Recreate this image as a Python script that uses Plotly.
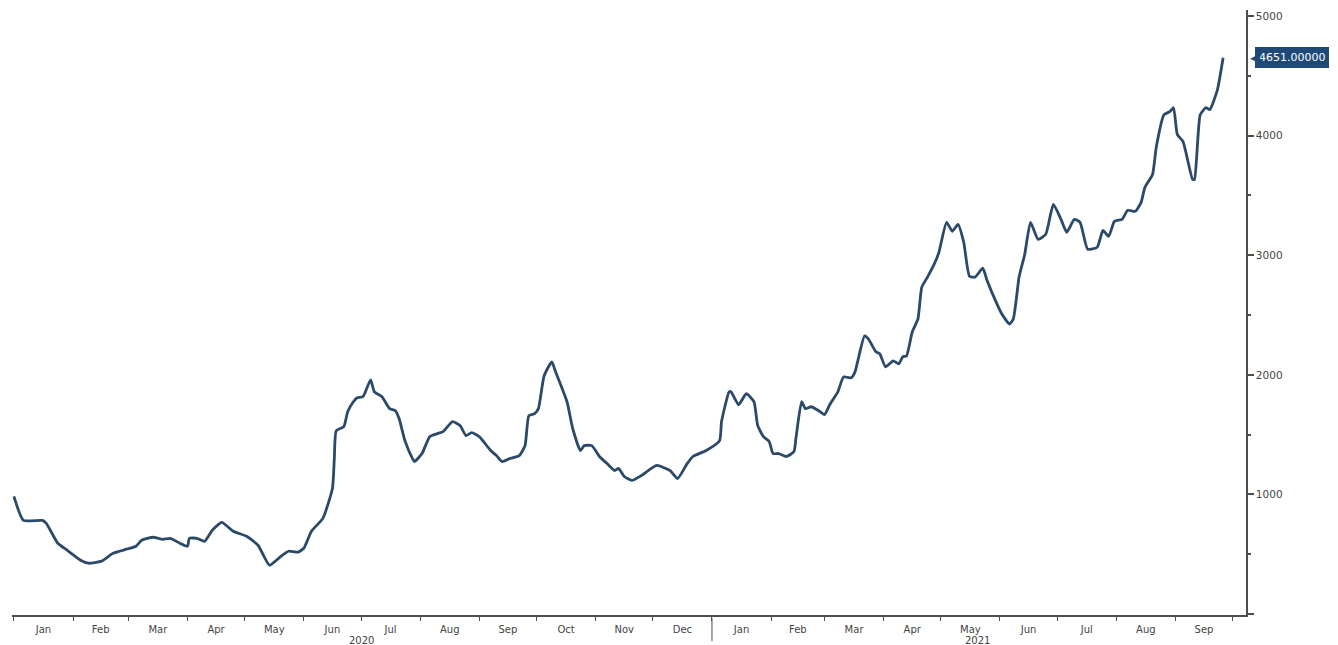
import plotly.graph_objects as go

dates = [
    "2020-01-01", "2020-01-06", "2020-01-16", "2020-01-18", "2020-01-24", "2020-01-29",
    "2020-02-05", "2020-02-09", "2020-02-16", "2020-02-22", "2020-02-29",
    "2020-03-05", "2020-03-08", "2020-03-14", "2020-03-19", "2020-03-23", "2020-03-28",
    "2020-04-01", "2020-04-02", "2020-04-06", "2020-04-10", "2020-04-14", "2020-04-19", "2020-04-25",
    "2020-05-02", "2020-05-08", "2020-05-14", "2020-05-20", "2020-05-24", "2020-05-29",
    "2020-06-01", "2020-06-05", "2020-06-11", "2020-06-16", "2020-06-17", "2020-06-18",
    "2020-06-22", "2020-06-24", "2020-06-27", "2020-06-29",
    "2020-07-02", "2020-07-06", "2020-07-08", "2020-07-12", "2020-07-16", "2020-07-19",
    "2020-07-21", "2020-07-24", "2020-07-28", "2020-07-29",
    "2020-08-02", "2020-08-06", "2020-08-10", "2020-08-13", "2020-08-18", "2020-08-22",
    "2020-08-25", "2020-08-28",
    "2020-09-01", "2020-09-07", "2020-09-10", "2020-09-13", "2020-09-17", "2020-09-22",
    "2020-09-25", "2020-09-27", "2020-09-30",
    "2020-10-02", "2020-10-05", "2020-10-09", "2020-10-11", "2020-10-17", "2020-10-20",
    "2020-10-24", "2020-10-26", "2020-10-30",
    "2020-11-03", "2020-11-07", "2020-11-11", "2020-11-13", "2020-11-16", "2020-11-20", "2020-11-25",
    "2020-12-03", "2020-12-10", "2020-12-14", "2020-12-19", "2020-12-22", "2020-12-29",
    "2021-01-05", "2021-01-06", "2021-01-10", "2021-01-11", "2021-01-15", "2021-01-19",
    "2021-01-23", "2021-01-25", "2021-01-28", "2021-01-31",
    "2021-02-02", "2021-02-05", "2021-02-09", "2021-02-13", "2021-02-14", "2021-02-17",
    "2021-02-19", "2021-02-22", "2021-02-26",
    "2021-03-01", "2021-03-04", "2021-03-08", "2021-03-11", "2021-03-15", "2021-03-17",
    "2021-03-22", "2021-03-24", "2021-03-28", "2021-03-30",
    "2021-04-02", "2021-04-06", "2021-04-09", "2021-04-11", "2021-04-13", "2021-04-16",
    "2021-04-19", "2021-04-21", "2021-04-24", "2021-04-28", "2021-04-30",
    "2021-05-04", "2021-05-07", "2021-05-10", "2021-05-13", "2021-05-16", "2021-05-19",
    "2021-05-23", "2021-05-25", "2021-05-30",
    "2021-06-02", "2021-06-06", "2021-06-08", "2021-06-11", "2021-06-12", "2021-06-14",
    "2021-06-17", "2021-06-21", "2021-06-25", "2021-06-29",
    "2021-07-03", "2021-07-06", "2021-07-10", "2021-07-13", "2021-07-17", "2021-07-22",
    "2021-07-25", "2021-07-28", "2021-07-31",
    "2021-08-04", "2021-08-07", "2021-08-11", "2021-08-14", "2021-08-16", "2021-08-20",
    "2021-08-22", "2021-08-26", "2021-08-29", "2021-08-31",
    "2021-09-02", "2021-09-05", "2021-09-10", "2021-09-11", "2021-09-14", "2021-09-17",
    "2021-09-19", "2021-09-23", "2021-09-26",
]

values = [
    983, 783, 783, 758, 592, 533,
    450, 425, 442, 508, 542,
    567, 617, 642, 625, 633, 592,
    567, 633, 633, 608, 700, 767, 692,
    650, 575, 408, 483, 525, 517,
    550, 692, 800, 1050, 1300, 1533,
    1567, 1692, 1775, 1808,
    1817, 1958, 1858, 1817, 1717, 1700,
    1633, 1450, 1300, 1275,
    1342, 1483, 1508, 1525, 1608, 1575,
    1492, 1517,
    1483, 1367, 1325, 1275, 1300, 1325,
    1408, 1658, 1675,
    1717, 1992, 2108, 2025, 1775, 1550,
    1367, 1408, 1408,
    1317, 1258, 1200, 1217, 1150, 1117, 1158,
    1242, 1200, 1133, 1258, 1317, 1367,
    1450, 1608, 1858, 1858, 1750, 1842,
    1775, 1575, 1483, 1442,
    1342, 1342, 1317, 1358, 1467, 1775,
    1717, 1733, 1700,
    1667, 1758, 1858, 1983, 1975, 2025,
    2325, 2300, 2192, 2175,
    2067, 2117, 2092, 2150, 2158, 2358,
    2467, 2733, 2817, 2942, 3025,
    3275, 3200, 3258, 3108, 2825, 2817,
    2892, 2800, 2608,
    2508, 2425, 2467, 2817, 2883, 3008,
    3275, 3133, 3175, 3425,
    3300, 3192, 3300, 3275, 3050, 3067,
    3208, 3158, 3283,
    3300, 3375, 3367, 3442, 3567, 3675,
    3908, 4175, 4200, 4233,
    4008, 3950, 3633, 3633, 4175, 4233,
    4217, 4383, 4651,
]

y_tickvals = [0, 1000, 2000, 3000, 4000, 5000]
y_ticktext = ["", "1000", "2000", "3000", "4000", "5000"]
year_labels = ["2020", "2021"]
year_centers = ["2020-07-01", "2021-05-20"]
year_break = "2021-01-01"
last_label = "4651.00000"

line_color = "#2b4968"
axis_color = "#4d4d4d"
text_color = "#444444"
label_bg = "#1f4a78"
font_family = "DejaVu Sans"

fig = go.Figure()
fig.add_trace(go.Scatter(
    x=dates, y=values, mode="lines",
    line=dict(color=line_color, width=2.8, shape="spline", smoothing=0.5),
    hoverinfo="skip", showlegend=False,
))

fig.update_layout(
    width=1338, height=645,
    margin=dict(l=12, r=92, t=10, b=28),
    paper_bgcolor="white", plot_bgcolor="white",
    font=dict(family=font_family, size=10, color=text_color),
    showlegend=False,
)

fig.update_xaxes(
    type="date",
    range=["2019-12-31", "2021-10-08"],
    dtick="M1", tick0="2020-01-01",
    ticklabelmode="period", tickformat="%b",
    ticks="outside", ticklen=4, tickwidth=1, tickcolor=axis_color,
    ticklabelstandoff=0,
    showline=True, linecolor=axis_color, linewidth=1.5,
    showgrid=False, zeroline=False,
    tickfont=dict(size=10, color=text_color),
)

fig.update_yaxes(
    range=[-8, 5050], side="right",
    tickvals=y_tickvals, ticktext=y_ticktext,
    ticks="outside", ticklen=6, tickwidth=2, tickcolor=axis_color,
    minor=dict(dtick=500, ticks="outside", ticklen=3, tickcolor=axis_color),
    showline=True, linecolor=axis_color, linewidth=1.5,
    showgrid=False, zeroline=False,
    tickfont=dict(size=10.5, color=text_color),
)

for lbl, xc in zip(year_labels, year_centers):
    fig.add_annotation(
        x=xc, xref="x", y=0, yref="paper", yshift=-32,
        text=lbl, showarrow=False, font=dict(size=10, color=text_color),
        yanchor="bottom", borderpad=0,
    )

fig.add_shape(
    type="line", xref="x", yref="paper",
    x0=year_break, x1=year_break, y0=-0.005, y1=-0.043,
    line=dict(color=axis_color, width=1),
)

fig.add_annotation(
    x=1, xref="paper", y=values[-1], yref="y", xshift=9,
    text=last_label, showarrow=False,
    xanchor="left", yanchor="middle",
    bgcolor=label_bg, bordercolor=label_bg, borderpad=3,
    font=dict(size=11, color="white"),
)
fig.add_annotation(
    x=1, xref="paper", y=values[-1], yref="y", xshift=2,
    text="◀", showarrow=False, xanchor="left", yanchor="middle",
    font=dict(size=13, color=label_bg),
)

fig.write_html("out.html", config={"displayModeBar": False},
               post_script="document.body.style.margin='0';")
